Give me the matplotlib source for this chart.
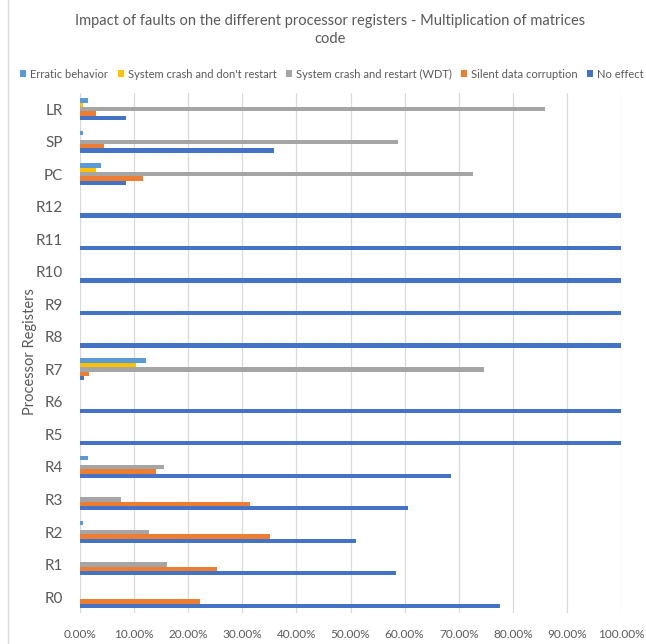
import matplotlib
matplotlib.use("Agg")
import matplotlib.pyplot as plt
from matplotlib.patches import Patch
from matplotlib.lines import Line2D
from matplotlib.ticker import PercentFormatter
import numpy as np

plt.rcParams['font.family'] = ['Lato', 'DejaVu Sans']

# bottom to top, as drawn
registers = ["R0", "R1", "R2", "R3", "R4", "R5", "R6", "R7",
             "R8", "R9", "R10", "R11", "R12", "PC", "SP", "LR"]
no_effect = [77.7, 58.4, 51.0, 60.7, 68.5, 100, 100, 0.7, 100, 100, 100, 100, 100, 8.5, 35.8, 8.5]
silent_corruption = [22.1, 25.3, 35.2, 31.5, 14.1, 0, 0, 1.6, 0, 0, 0, 0, 0, 11.6, 4.4, 3.0]
crash_restart_wdt = [0, 16.0, 12.7, 7.6, 15.6, 0, 0, 74.7, 0, 0, 0, 0, 0, 72.6, 58.8, 86.0]
crash_no_restart = [0, 0, 0, 0, 0, 0, 0, 10.4, 0, 0, 0, 0, 0, 3.0, 0, 0.6]
erratic = [0, 0, 0.6, 0, 1.4, 0, 0, 12.2, 0, 0, 0, 0, 0, 3.8, 0.6, 1.4]

series_names = ["Erratic behavior", "System crash and don't restart",
                "System crash and restart (WDT)", "Silent data corruption", "No effect"]
colors = ["#5B9BD5", "#FFC000", "#A5A5A5", "#ED7D31", "#4472C4"]
TEXT = "#595959"

fig = plt.figure(figsize=(6.46, 6.44), dpi=100)
ax = fig.add_axes([80 / 646, 1 - 613.3 / 644, 541 / 646, 520.3 / 644])

y = np.arange(len(registers))
h = 0.135
all_series = [erratic, crash_no_restart, crash_restart_wdt, silent_corruption, no_effect]
for i, (vals, c) in enumerate(zip(all_series, colors)):
    offset = (2 - i) * h
    ax.barh(y + offset, np.array(vals) / 100, height=h, color=c, zorder=3)

ax.set_xlim(0, 1)
ax.set_ylim(-0.5, len(registers) - 0.5)
ax.set_xticks(np.arange(0, 1.01, 0.1))
ax.xaxis.set_major_formatter(PercentFormatter(xmax=1, decimals=2))
ax.set_yticks(y)
ax.set_yticklabels(registers)
ax.grid(axis="x", color="#D9D9D9", linewidth=0.9, zorder=0)
for s in ax.spines.values():
    s.set_visible(False)
ax.tick_params(axis="both", length=0, colors=TEXT)
ax.tick_params(axis="x", labelsize=8.5, pad=11)
ax.tick_params(axis="y", labelsize=11, pad=12)

fig.text(330 / 646, 1 - 30 / 644,
         "Impact of faults on the different processor registers - Multiplication of matrices\ncode",
         ha="center", va="center", fontsize=10.5, color=TEXT, linespacing=1.45)
fig.text(30 / 646, 1 - 352 / 644, "Processor Registers", rotation=90,
         ha="center", va="center", fontsize=10.5, color=TEXT)

handles = [Patch(facecolor=c, edgecolor="none") for c in colors]
fig.legend(handles, series_names, loc="center", bbox_to_anchor=(332 / 646, 1 - 74 / 644),
           ncol=5, frameon=False, fontsize=8.0, labelcolor=TEXT,
           handlelength=0.55, handleheight=0.55, handletextpad=0.35, columnspacing=0.85)

# chart area border on the left
fig.add_artist(Line2D([8 / 646, 8 / 646], [0, 1], color="#D9D9D9", linewidth=1))

fig.savefig("out.png", dpi=100)
